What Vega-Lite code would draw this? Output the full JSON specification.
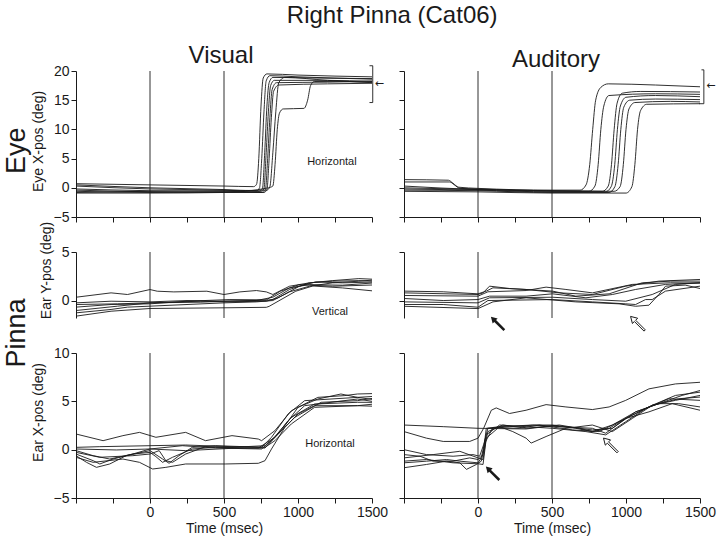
{
"$schema":"https://vega.github.io/schema/vega-lite/v6.json",
"autosize":{"type":"none"},
"padding":{"left":76,"top":71,"right":644,"bottom":469},
"title":{"text":"Right Pinna (Cat06)","fontSize":24,"fontWeight":"normal","font":"Liberation Sans","color":"#1a1a1a","anchor":"middle","dx":33,"dy":-12},
"config":{"view":{"stroke":null},"font":"Liberation Sans",
"axis":{"grid":false,"domainColor":"#1a1a1a","tickColor":"#1a1a1a","labelColor":"#1a1a1a","titleColor":"#1a1a1a","labelFontSize":14,"titleFontSize":14,"titleFontWeight":"normal","tickSize":5,"labelPadding":2,"labelFlush":false,"labelOverlap":false,"labelFont":"Liberation Sans","titleFont":"Liberation Sans"},
"text":{"color":"#1a1a1a","font":"Liberation Sans"}},
"datasets":{
"eyeV":[
{"s":1,"t":-500,"v":0.7},{"s":1,"t":0,"v":0.5},{"s":1,"t":500,"v":0.3},{"s":1,"t":700,"v":0.2},{"s":1,"t":720,"v":0.6},{"s":1,"t":735,"v":5},{"s":1,"t":750,"v":14},{"s":1,"t":765,"v":18.8},{"s":1,"t":790,"v":19.5},{"s":1,"t":1000,"v":19.3},{"s":1,"t":1500,"v":19.0},
{"s":2,"t":-500,"v":0.5},{"s":2,"t":0,"v":0.0},{"s":2,"t":500,"v":-0.3},{"s":2,"t":720,"v":-0.5},{"s":2,"t":740,"v":0},{"s":2,"t":755,"v":5},{"s":2,"t":770,"v":13},{"s":2,"t":785,"v":18.3},{"s":2,"t":810,"v":19.2},{"s":2,"t":1000,"v":19.0},{"s":2,"t":1500,"v":18.6},
{"s":3,"t":-500,"v":0.3},{"s":3,"t":0,"v":-0.2},{"s":3,"t":500,"v":-0.4},{"s":3,"t":740,"v":-0.6},{"s":3,"t":760,"v":-0.1},{"s":3,"t":775,"v":6},{"s":3,"t":790,"v":14},{"s":3,"t":805,"v":18},{"s":3,"t":830,"v":18.9},{"s":3,"t":1100,"v":18.8},{"s":3,"t":1500,"v":18.7},
{"s":4,"t":-500,"v":-0.2},{"s":4,"t":0,"v":-0.5},{"s":4,"t":500,"v":-0.6},{"s":4,"t":750,"v":-0.7},{"s":4,"t":770,"v":-0.2},{"s":4,"t":785,"v":6},{"s":4,"t":800,"v":13},{"s":4,"t":815,"v":17.5},{"s":4,"t":840,"v":18.4},{"s":4,"t":1200,"v":18.4},{"s":4,"t":1500,"v":18.2},
{"s":5,"t":-500,"v":-0.4},{"s":5,"t":0,"v":-0.7},{"s":5,"t":500,"v":-0.8},{"s":5,"t":760,"v":-0.8},{"s":5,"t":780,"v":-0.3},{"s":5,"t":795,"v":5},{"s":5,"t":810,"v":12},{"s":5,"t":825,"v":16.8},{"s":5,"t":855,"v":18.0},{"s":5,"t":1200,"v":18.1},{"s":5,"t":1500,"v":18.3},
{"s":6,"t":-500,"v":-0.6},{"s":6,"t":0,"v":-0.8},{"s":6,"t":500,"v":-0.7},{"s":6,"t":770,"v":-0.8},{"s":6,"t":790,"v":-0.3},{"s":6,"t":805,"v":5},{"s":6,"t":820,"v":12},{"s":6,"t":835,"v":16.5},{"s":6,"t":870,"v":17.6},{"s":6,"t":1200,"v":17.8},{"s":6,"t":1500,"v":17.9},
{"s":7,"t":-500,"v":-0.8},{"s":7,"t":0,"v":-0.6},{"s":7,"t":500,"v":-0.5},{"s":7,"t":790,"v":-0.4},{"s":7,"t":810,"v":0.2},{"s":7,"t":830,"v":6},{"s":7,"t":850,"v":13},{"s":7,"t":870,"v":18},{"s":7,"t":910,"v":18.9},{"s":7,"t":1200,"v":18.4},{"s":7,"t":1500,"v":18.0},
{"s":8,"t":-500,"v":-0.9},{"s":8,"t":0,"v":-0.9},{"s":8,"t":500,"v":-0.8},{"s":8,"t":800,"v":0.0},{"s":8,"t":830,"v":0.3},{"s":8,"t":845,"v":4},{"s":8,"t":860,"v":10},{"s":8,"t":875,"v":12.8},{"s":8,"t":900,"v":13.5},{"s":8,"t":1040,"v":13.6},{"s":8,"t":1065,"v":15},{"s":8,"t":1085,"v":17.5},{"s":8,"t":1110,"v":18.2},{"s":8,"t":1500,"v":18.1}
],
"eyeA":[
{"s":1,"t":-500,"v":1.4},{"s":1,"t":-200,"v":1.3},{"s":1,"t":-170,"v":0.8},{"s":1,"t":-130,"v":0.1},{"s":1,"t":0,"v":-0.1},{"s":1,"t":500,"v":-0.4},{"s":1,"t":690,"v":-0.4},{"s":1,"t":730,"v":0.5},{"s":1,"t":755,"v":4},{"s":1,"t":775,"v":10},{"s":1,"t":795,"v":15},{"s":1,"t":830,"v":17.2},{"s":1,"t":880,"v":17.8},{"s":1,"t":1200,"v":17.6},{"s":1,"t":1500,"v":17.3},
{"s":2,"t":-500,"v":1.0},{"s":2,"t":-190,"v":1.0},{"s":2,"t":-160,"v":0.5},{"s":2,"t":-120,"v":-0.1},{"s":2,"t":0,"v":-0.2},{"s":2,"t":500,"v":-0.6},{"s":2,"t":750,"v":-0.6},{"s":2,"t":790,"v":0.3},{"s":2,"t":812,"v":4},{"s":2,"t":830,"v":10},{"s":2,"t":850,"v":14},{"s":2,"t":885,"v":15.8},{"s":2,"t":1200,"v":16.1},{"s":2,"t":1500,"v":16.0},
{"s":3,"t":-500,"v":0.3},{"s":3,"t":0,"v":-0.3},{"s":3,"t":500,"v":-0.5},{"s":3,"t":840,"v":-0.6},{"s":3,"t":880,"v":0.3},{"s":3,"t":902,"v":4},{"s":3,"t":920,"v":10},{"s":3,"t":940,"v":14.5},{"s":3,"t":975,"v":16.2},{"s":3,"t":1100,"v":16.5},{"s":3,"t":1500,"v":16.4},
{"s":4,"t":-500,"v":-0.2},{"s":4,"t":0,"v":-0.4},{"s":4,"t":500,"v":-0.7},{"s":4,"t":860,"v":-0.7},{"s":4,"t":900,"v":0.2},{"s":4,"t":924,"v":4},{"s":4,"t":942,"v":10},{"s":4,"t":962,"v":14},{"s":4,"t":1000,"v":15.5},{"s":4,"t":1200,"v":15.8},{"s":4,"t":1500,"v":15.6},
{"s":5,"t":-500,"v":-0.4},{"s":5,"t":0,"v":-0.5},{"s":5,"t":500,"v":-0.8},{"s":5,"t":885,"v":-0.8},{"s":5,"t":925,"v":0.2},{"s":5,"t":947,"v":4},{"s":5,"t":965,"v":10},{"s":5,"t":985,"v":13.8},{"s":5,"t":1025,"v":15.0},{"s":5,"t":1200,"v":15.2},{"s":5,"t":1500,"v":15.1},
{"s":6,"t":-500,"v":0.0},{"s":6,"t":0,"v":-0.3},{"s":6,"t":500,"v":-0.5},{"s":6,"t":920,"v":-0.6},{"s":6,"t":960,"v":0.2},{"s":6,"t":982,"v":4},{"s":6,"t":1000,"v":10},{"s":6,"t":1020,"v":13.5},{"s":6,"t":1060,"v":14.6},{"s":6,"t":1300,"v":14.8},{"s":6,"t":1500,"v":14.7},
{"s":7,"t":-500,"v":-0.6},{"s":7,"t":0,"v":-0.7},{"s":7,"t":500,"v":-0.9},{"s":7,"t":1000,"v":-0.9},{"s":7,"t":1040,"v":0.2},{"s":7,"t":1060,"v":4},{"s":7,"t":1078,"v":10},{"s":7,"t":1098,"v":13.2},{"s":7,"t":1140,"v":14.3},{"s":7,"t":1500,"v":14.4}
],
"vertV":[
{"s":1,"t":-500,"v":0.34},{"s":1,"t":-263,"v":0.79},{"s":1,"t":-152,"v":0.62},{"s":1,"t":0,"v":1.13},{"s":1,"t":49,"v":0.96},{"s":1,"t":161,"v":0.89},{"s":1,"t":384,"v":0.96},{"s":1,"t":500,"v":0.62},{"s":1,"t":607,"v":0.89},{"s":1,"t":719,"v":1.03},{"s":1,"t":786,"v":0.89},{"s":1,"t":830,"v":0.62},{"s":1,"t":942,"v":1.47},{"s":1,"t":1076,"v":1.82},{"s":1,"t":1232,"v":2.05},{"s":1,"t":1411,"v":2.26},{"s":1,"t":1500,"v":2.2},
{"s":2,"t":-500,"v":-0.24},{"s":2,"t":-263,"v":-0.07},{"s":2,"t":0,"v":-0.14},{"s":2,"t":250,"v":0},{"s":2,"t":500,"v":-0.07},{"s":2,"t":786,"v":0.03},{"s":2,"t":830,"v":0.1},{"s":2,"t":942,"v":1.13},{"s":2,"t":1076,"v":1.82},{"s":2,"t":1232,"v":1.99},{"s":2,"t":1411,"v":2.05},{"s":2,"t":1500,"v":2.0},
{"s":3,"t":-500,"v":-0.41},{"s":3,"t":-219,"v":-0.34},{"s":3,"t":0,"v":-0.24},{"s":3,"t":339,"v":-0.07},{"s":3,"t":500,"v":-0.14},{"s":3,"t":786,"v":-0.07},{"s":3,"t":864,"v":0.27},{"s":3,"t":1009,"v":1.47},{"s":3,"t":1120,"v":1.92},{"s":3,"t":1300,"v":1.82},{"s":3,"t":1500,"v":1.9},
{"s":4,"t":-500,"v":-0.68},{"s":4,"t":-263,"v":-0.41},{"s":4,"t":0,"v":-0.34},{"s":4,"t":250,"v":-0.07},{"s":4,"t":540,"v":0.1},{"s":4,"t":786,"v":0.07},{"s":4,"t":880,"v":0.96},{"s":4,"t":1009,"v":1.64},{"s":4,"t":1232,"v":1.47},{"s":4,"t":1500,"v":1.6},
{"s":5,"t":-500,"v":-1.03},{"s":5,"t":-219,"v":-0.58},{"s":5,"t":0,"v":-0.24},{"s":5,"t":339,"v":-0.17},{"s":5,"t":500,"v":-0.07},{"s":5,"t":719,"v":0},{"s":5,"t":830,"v":0.34},{"s":5,"t":942,"v":1.3},{"s":5,"t":1076,"v":1.64},{"s":5,"t":1300,"v":1.58},{"s":5,"t":1500,"v":1.8},
{"s":6,"t":-500,"v":-1.61},{"s":6,"t":-263,"v":-1.1},{"s":6,"t":0,"v":-0.82},{"s":6,"t":500,"v":-0.75},{"s":6,"t":786,"v":-0.7},{"s":6,"t":805,"v":-0.6},{"s":6,"t":985,"v":0.96},{"s":6,"t":1100,"v":1.5},{"s":6,"t":1300,"v":1.3},{"s":6,"t":1500,"v":1.0},
{"s":7,"t":-500,"v":-1.27},{"s":7,"t":-263,"v":-0.92},{"s":7,"t":-152,"v":-0.68},{"s":7,"t":0,"v":-0.58},{"s":7,"t":250,"v":-0.41},{"s":7,"t":500,"v":-0.24},{"s":7,"t":719,"v":-0.14},{"s":7,"t":830,"v":0},{"s":7,"t":942,"v":0.89},{"s":7,"t":1076,"v":1.47},{"s":7,"t":1232,"v":1.82},{"s":7,"t":1411,"v":1.99},{"s":7,"t":1500,"v":2.1}
],
"vertA":[
{"s":1,"t":-500,"v":0.97},{"s":1,"t":-235,"v":0.9},{"s":1,"t":0,"v":0.69},{"s":1,"t":56,"v":0.97},{"s":1,"t":101,"v":1.31},{"s":1,"t":325,"v":1.14},{"s":1,"t":549,"v":0.79},{"s":1,"t":773,"v":0.62},{"s":1,"t":998,"v":1.48},{"s":1,"t":1222,"v":2.0},{"s":1,"t":1500,"v":2.17},
{"s":2,"t":-500,"v":0.79},{"s":2,"t":0,"v":0.62},{"s":2,"t":34,"v":0.79},{"s":2,"t":78,"v":1.48},{"s":2,"t":213,"v":1.24},{"s":2,"t":504,"v":0.97},{"s":2,"t":661,"v":0.45},{"s":2,"t":886,"v":0.69},{"s":2,"t":1110,"v":1.83},{"s":2,"t":1300,"v":2.0},{"s":2,"t":1500,"v":2.0},
{"s":3,"t":-500,"v":0.52},{"s":3,"t":0,"v":0.45},{"s":3,"t":67,"v":0.9},{"s":3,"t":325,"v":1.03},{"s":3,"t":460,"v":1.38},{"s":3,"t":594,"v":1.14},{"s":3,"t":773,"v":0.79},{"s":3,"t":1043,"v":1.66},{"s":3,"t":1300,"v":1.83},{"s":3,"t":1500,"v":1.8},
{"s":4,"t":-500,"v":0.21},{"s":4,"t":-235,"v":0},{"s":4,"t":0,"v":0.1},{"s":4,"t":78,"v":0.45},{"s":4,"t":325,"v":0.45},{"s":4,"t":504,"v":0.69},{"s":4,"t":729,"v":0.28},{"s":4,"t":908,"v":0.62},{"s":4,"t":1065,"v":1.14},{"s":4,"t":1267,"v":1.66},{"s":4,"t":1500,"v":1.83},
{"s":5,"t":-500,"v":-0.14},{"s":5,"t":0,"v":-0.24},{"s":5,"t":78,"v":0.28},{"s":5,"t":504,"v":0.34},{"s":5,"t":773,"v":0.1},{"s":5,"t":998,"v":-0.07},{"s":5,"t":1177,"v":0.62},{"s":5,"t":1334,"v":1.66},{"s":5,"t":1500,"v":1.83},
{"s":6,"t":-500,"v":-0.41},{"s":6,"t":-235,"v":-0.41},{"s":6,"t":0,"v":-0.69},{"s":6,"t":67,"v":0},{"s":6,"t":504,"v":0.1},{"s":6,"t":773,"v":-0.14},{"s":6,"t":998,"v":-0.34},{"s":6,"t":1065,"v":-0.41},{"s":6,"t":1132,"v":0.1},{"s":6,"t":1177,"v":0.1},{"s":6,"t":1267,"v":0.97},{"s":6,"t":1500,"v":1.48},
{"s":7,"t":-500,"v":-0.59},{"s":7,"t":0,"v":-0.83},{"s":7,"t":101,"v":-0.14},{"s":7,"t":325,"v":0.28},{"s":7,"t":661,"v":-0.14},{"s":7,"t":953,"v":-0.34},{"s":7,"t":1065,"v":-0.59},{"s":7,"t":1155,"v":-0.48},{"s":7,"t":1222,"v":0.62},{"s":7,"t":1267,"v":1.48},{"s":7,"t":1400,"v":1.59},{"s":7,"t":1500,"v":1.24}
],
"horV":[
{"s":1,"t":-500,"v":1.62},{"s":1,"t":-317,"v":0.93},{"s":1,"t":-183,"v":1.45},{"s":1,"t":-71,"v":1.79},{"s":1,"t":40,"v":1.28},{"s":1,"t":241,"v":1.79},{"s":1,"t":375,"v":0.93},{"s":1,"t":554,"v":1.45},{"s":1,"t":732,"v":1.1},{"s":1,"t":754,"v":0.93},{"s":1,"t":844,"v":1.97},{"s":1,"t":955,"v":4.03},{"s":1,"t":1134,"v":5.41},{"s":1,"t":1312,"v":5.59},{"s":1,"t":1402,"v":5.76},{"s":1,"t":1500,"v":5.8},
{"s":2,"t":-500,"v":0.24},{"s":2,"t":-339,"v":0.31},{"s":2,"t":0,"v":0.41},{"s":2,"t":241,"v":0.48},{"s":2,"t":554,"v":0.31},{"s":2,"t":754,"v":0.24},{"s":2,"t":821,"v":1.28},{"s":2,"t":933,"v":3.69},{"s":2,"t":1045,"v":5.07},{"s":2,"t":1223,"v":5.24},{"s":2,"t":1402,"v":5.41},{"s":2,"t":1500,"v":5.5},
{"s":3,"t":-500,"v":0.07},{"s":3,"t":-228,"v":-0.03},{"s":3,"t":0,"v":0.07},{"s":3,"t":241,"v":-0.1},{"s":3,"t":554,"v":0.14},{"s":3,"t":777,"v":0.17},{"s":3,"t":888,"v":1.97},{"s":3,"t":1000,"v":4.38},{"s":3,"t":1134,"v":5.24},{"s":3,"t":1290,"v":5.76},{"s":3,"t":1402,"v":5.41},{"s":3,"t":1500,"v":5.2},
{"s":4,"t":-500,"v":-0.1},{"s":4,"t":-384,"v":-0.62},{"s":4,"t":-272,"v":-0.97},{"s":4,"t":-116,"v":-0.45},{"s":4,"t":0,"v":0.07},{"s":4,"t":219,"v":0.41},{"s":4,"t":442,"v":0.17},{"s":4,"t":754,"v":0.07},{"s":4,"t":821,"v":0.93},{"s":4,"t":955,"v":3.34},{"s":4,"t":1112,"v":4.72},{"s":4,"t":1402,"v":4.9},{"s":4,"t":1500,"v":4.9},
{"s":5,"t":-500,"v":-0.45},{"s":5,"t":-384,"v":-1.14},{"s":5,"t":-339,"v":-1.48},{"s":5,"t":-250,"v":-0.97},{"s":5,"t":-116,"v":-0.45},{"s":5,"t":0,"v":-0.28},{"s":5,"t":40,"v":-0.72},{"s":5,"t":85,"v":-1.31},{"s":5,"t":152,"v":-0.79},{"s":5,"t":286,"v":0.07},{"s":5,"t":442,"v":0.24},{"s":5,"t":732,"v":0.17},{"s":5,"t":844,"v":1.28},{"s":5,"t":933,"v":3.0},{"s":5,"t":1045,"v":4.55},{"s":5,"t":1223,"v":4.9},{"s":5,"t":1402,"v":5.24},{"s":5,"t":1500,"v":5.0},
{"s":6,"t":-500,"v":-0.62},{"s":6,"t":-429,"v":-1.31},{"s":6,"t":-362,"v":-1.83},{"s":6,"t":-272,"v":-1.48},{"s":6,"t":-161,"v":-0.62},{"s":6,"t":0,"v":-0.1},{"s":6,"t":85,"v":-0.97},{"s":6,"t":129,"v":-1.41},{"s":6,"t":196,"v":-0.62},{"s":6,"t":286,"v":0.24},{"s":6,"t":442,"v":0.41},{"s":6,"t":777,"v":0.24},{"s":6,"t":844,"v":0.93},{"s":6,"t":955,"v":2.66},{"s":6,"t":1112,"v":4.38},{"s":6,"t":1402,"v":4.55},{"s":6,"t":1500,"v":4.5},
{"s":7,"t":-500,"v":-0.79},{"s":7,"t":-384,"v":-1.31},{"s":7,"t":-183,"v":-0.97},{"s":7,"t":-71,"v":-1.31},{"s":7,"t":18,"v":-2.0},{"s":7,"t":107,"v":-1.83},{"s":7,"t":241,"v":-1.48},{"s":7,"t":509,"v":-1.48},{"s":7,"t":732,"v":-1.41},{"s":7,"t":777,"v":-1.14},{"s":7,"t":821,"v":0.07},{"s":7,"t":911,"v":2.31},{"s":7,"t":1000,"v":3.69},{"s":7,"t":1112,"v":4.55},{"s":7,"t":1402,"v":4.55},{"s":7,"t":1500,"v":4.7},
{"s":8,"t":-500,"v":-0.28},{"s":8,"t":-339,"v":-0.79},{"s":8,"t":-116,"v":-0.62},{"s":8,"t":0,"v":-0.45},{"s":8,"t":62,"v":-0.1},{"s":8,"t":107,"v":-1.14},{"s":8,"t":152,"v":-1.31},{"s":8,"t":241,"v":-0.45},{"s":8,"t":375,"v":0.31},{"s":8,"t":554,"v":0.24},{"s":8,"t":777,"v":0.41},{"s":8,"t":866,"v":1.62},{"s":8,"t":978,"v":3.34},{"s":8,"t":1156,"v":4.9},{"s":8,"t":1402,"v":5.07},{"s":8,"t":1500,"v":5.3}
],
"horA":[
{"s":1,"t":-500,"v":2.55},{"s":1,"t":-235,"v":2.38},{"s":1,"t":0,"v":2.21},{"s":1,"t":325,"v":2.14},{"s":1,"t":504,"v":2.48},{"s":1,"t":661,"v":2.21},{"s":1,"t":773,"v":1.87},{"s":1,"t":886,"v":2.21},{"s":1,"t":998,"v":3.23},{"s":1,"t":1177,"v":4.59},{"s":1,"t":1334,"v":5.1},{"s":1,"t":1500,"v":5.61},
{"s":2,"t":-500,"v":1.87},{"s":2,"t":-348,"v":1.19},{"s":2,"t":-235,"v":0.85},{"s":2,"t":-56,"v":0.85},{"s":2,"t":0,"v":1.19},{"s":2,"t":38,"v":2.21},{"s":2,"t":90,"v":4.08},{"s":2,"t":123,"v":4.32},{"s":2,"t":213,"v":3.74},{"s":2,"t":325,"v":4.08},{"s":2,"t":460,"v":4.66},{"s":2,"t":594,"v":4.42},{"s":2,"t":773,"v":4.15},{"s":2,"t":886,"v":4.42},{"s":2,"t":998,"v":5.1},{"s":2,"t":1155,"v":6.29},{"s":2,"t":1334,"v":6.8},{"s":2,"t":1500,"v":6.97},
{"s":3,"t":-500,"v":0},{"s":3,"t":-348,"v":-0.51},{"s":3,"t":-168,"v":-0.68},{"s":3,"t":-34,"v":-0.51},{"s":3,"t":11,"v":-0.68},{"s":3,"t":38,"v":0.51},{"s":3,"t":67,"v":2.21},{"s":3,"t":213,"v":2.38},{"s":3,"t":392,"v":2.55},{"s":3,"t":504,"v":2.55},{"s":3,"t":684,"v":2.21},{"s":3,"t":773,"v":2.04},{"s":3,"t":908,"v":2.21},{"s":3,"t":1065,"v":3.91},{"s":3,"t":1222,"v":4.76},{"s":3,"t":1379,"v":5.61},{"s":3,"t":1500,"v":6.12},
{"s":4,"t":-500,"v":-0.51},{"s":4,"t":-392,"v":-0.68},{"s":4,"t":-303,"v":-1.19},{"s":4,"t":-168,"v":-1.19},{"s":4,"t":-56,"v":-0.85},{"s":4,"t":0,"v":-1.02},{"s":4,"t":34,"v":-0.51},{"s":4,"t":56,"v":2.21},{"s":4,"t":146,"v":2.38},{"s":4,"t":235,"v":1.87},{"s":4,"t":325,"v":1.19},{"s":4,"t":359,"v":0.68},{"s":4,"t":460,"v":1.36},{"s":4,"t":594,"v":2.21},{"s":4,"t":773,"v":2.55},{"s":4,"t":908,"v":1.87},{"s":4,"t":1043,"v":3.23},{"s":4,"t":1177,"v":4.59},{"s":4,"t":1356,"v":5.27},{"s":4,"t":1500,"v":5.44},
{"s":5,"t":-500,"v":-1.36},{"s":5,"t":-348,"v":-1.19},{"s":5,"t":-213,"v":-1.02},{"s":5,"t":-123,"v":-1.19},{"s":5,"t":0,"v":-1.36},{"s":5,"t":22,"v":-0.85},{"s":5,"t":56,"v":1.53},{"s":5,"t":146,"v":2.55},{"s":5,"t":325,"v":2.38},{"s":5,"t":504,"v":2.21},{"s":5,"t":729,"v":1.87},{"s":5,"t":863,"v":1.53},{"s":5,"t":998,"v":2.89},{"s":5,"t":1132,"v":4.25},{"s":5,"t":1289,"v":5.27},{"s":5,"t":1500,"v":5.1},
{"s":6,"t":-500,"v":-1.87},{"s":6,"t":-348,"v":-1.53},{"s":6,"t":-213,"v":-1.19},{"s":6,"t":-123,"v":-1.36},{"s":6,"t":-78,"v":-2.04},{"s":6,"t":-11,"v":-1.53},{"s":6,"t":22,"v":-1.19},{"s":6,"t":67,"v":1.87},{"s":6,"t":168,"v":2.55},{"s":6,"t":325,"v":2.21},{"s":6,"t":549,"v":2.55},{"s":6,"t":684,"v":2.21},{"s":6,"t":773,"v":1.87},{"s":6,"t":908,"v":2.55},{"s":6,"t":1065,"v":3.91},{"s":6,"t":1222,"v":4.76},{"s":6,"t":1356,"v":4.76},{"s":6,"t":1500,"v":4.42},
{"s":7,"t":-500,"v":-1.19},{"s":7,"t":-348,"v":-1.02},{"s":7,"t":-168,"v":-1.36},{"s":7,"t":0,"v":-1.46},{"s":7,"t":34,"v":-1.53},{"s":7,"t":56,"v":1.19},{"s":7,"t":146,"v":2.38},{"s":7,"t":370,"v":2.55},{"s":7,"t":549,"v":2.38},{"s":7,"t":773,"v":2.21},{"s":7,"t":863,"v":1.7},{"s":7,"t":998,"v":3.23},{"s":7,"t":1155,"v":3.91},{"s":7,"t":1312,"v":4.76},{"s":7,"t":1500,"v":4.08},
{"s":8,"t":-500,"v":-0.85},{"s":8,"t":-303,"v":-0.51},{"s":8,"t":-123,"v":-0.17},{"s":8,"t":0,"v":-0.85},{"s":8,"t":34,"v":-1.02},{"s":8,"t":52,"v":0.85},{"s":8,"t":101,"v":2.28},{"s":8,"t":280,"v":2.21},{"s":8,"t":415,"v":2.55},{"s":8,"t":639,"v":2.04},{"s":8,"t":818,"v":1.87},{"s":8,"t":1043,"v":3.57},{"s":8,"t":1177,"v":4.59},{"s":8,"t":1334,"v":5.61},{"s":8,"t":1500,"v":5.95}
]
},
"columns":2,
"spacing":{"row":35,"column":32},
"bounds":"flush",
"concat":[
{"width":296,"height":146,
"encoding":{"x":{"field":"t","type":"quantitative","scale":{"domain":[-500,1500],"nice":false,"zero":false},"axis":{"values":[-500,-250,0,250,500,750,1000,1250,1500],"labels":false,"title":null}},
"y":{"field":"v","type":"quantitative","scale":{"domain":[-5,20],"nice":false,"zero":false},"axis":{"values":[-5,0,5,10,15,20],"title":"Eye X-pos (deg)","titlePadding":8,"titleY":70}}},
"layer":[
{"data":{"name":"eyeV"},"mark":{"type":"line","interpolate":"monotone","color":"#1a1a1a","strokeWidth":0.9},"encoding":{"detail":{"field":"s"}}},
{"data":{"values":[{"t":0,"v":-5,"v2":20},{"t":500,"v":-5,"v2":20},{"t":1505,"v":20.9,"v2":14.6}]},"mark":{"type":"rule","color":"#1a1a1a","strokeWidth":0.9},"encoding":{"y2":{"field":"v2"}}},
{"data":{"values":[{"t":1483,"v":20.9,"t2":1505},{"t":1483,"v":14.6,"t2":1505}]},"mark":{"type":"rule","color":"#1a1a1a","strokeWidth":0.9},"encoding":{"x2":{"field":"t2"}}},
{"data":{"values":[{"t":1549,"v":17.7,"label":"←"}]},"mark":{"type":"text","font":"DejaVu Sans","fontSize":11,"align":"center","baseline":"middle"},"encoding":{"text":{"field":"label"}}},
{"data":{"values":[{"t":1229,"v":3.95,"label":"Horizontal"}]},"mark":{"type":"text","fontSize":11,"align":"center","baseline":"alphabetic"},"encoding":{"text":{"field":"label"}}},
{"data":{"values":[{"t":480,"v":21.4,"label":"Visual"}]},"mark":{"type":"text","fontSize":24,"align":"center","baseline":"alphabetic"},"encoding":{"text":{"field":"label"}}},
{"data":{"values":[{"t":-900,"v":6.35,"label":"Eye"}]},"mark":{"type":"text","fontSize":27,"angle":270,"align":"center","baseline":"middle"},"encoding":{"text":{"field":"label"}}}
]},
{"width":296,"height":146,
"encoding":{"x":{"field":"t","type":"quantitative","scale":{"domain":[-500,1500],"nice":false,"zero":false},"axis":{"values":[-500,-250,0,250,500,750,1000,1250,1500],"labels":false,"title":null}},
"y":{"field":"v","type":"quantitative","scale":{"domain":[-5,20],"nice":false,"zero":false},"axis":{"values":[-5,0,5,10,15,20],"labels":false,"title":null}}},
"layer":[
{"data":{"name":"eyeA"},"mark":{"type":"line","interpolate":"monotone","color":"#1a1a1a","strokeWidth":0.9},"encoding":{"detail":{"field":"s"}}},
{"data":{"values":[{"t":0,"v":-5,"v2":20},{"t":500,"v":-5,"v2":20},{"t":1526,"v":20.2,"v2":14.4}]},"mark":{"type":"rule","color":"#1a1a1a","strokeWidth":0.9},"encoding":{"y2":{"field":"v2"}}},
{"data":{"values":[{"t":1510,"v":20.2,"t2":1526},{"t":1495,"v":14.4,"t2":1526}]},"mark":{"type":"rule","color":"#1a1a1a","strokeWidth":0.9},"encoding":{"x2":{"field":"t2"}}},
{"data":{"values":[{"t":1573,"v":17.4,"label":"←"}]},"mark":{"type":"text","font":"DejaVu Sans","fontSize":11,"align":"center","baseline":"middle"},"encoding":{"text":{"field":"label"}}},
{"data":{"values":[{"t":527,"v":20.7,"label":"Auditory"}]},"mark":{"type":"text","fontSize":24,"align":"center","baseline":"alphabetic"},"encoding":{"text":{"field":"label"}}}
]},
{"width":296,"height":66,
"encoding":{"x":{"field":"t","type":"quantitative","scale":{"domain":[-500,1500],"nice":false,"zero":false},"axis":null},
"y":{"field":"v","type":"quantitative","scale":{"domain":[-1.8,5],"nice":false,"zero":false},"axis":{"values":[0,5],"title":"Ear Y-pos (deg)","titlePadding":8,"titleY":18}}},
"layer":[
{"data":{"name":"vertV"},"mark":{"type":"line","color":"#1a1a1a","strokeWidth":0.9},"encoding":{"detail":{"field":"s"}}},
{"data":{"values":[{"t":0,"v":-1.8,"v2":5},{"t":500,"v":-1.8,"v2":5}]},"mark":{"type":"rule","color":"#1a1a1a","strokeWidth":0.9},"encoding":{"y2":{"field":"v2"}}},
{"data":{"values":[{"t":1216,"v":-1.5,"label":"Vertical"}]},"mark":{"type":"text","fontSize":11,"align":"center","baseline":"alphabetic"},"encoding":{"text":{"field":"label"}}}
]},
{"width":296,"height":66,
"encoding":{"x":{"field":"t","type":"quantitative","scale":{"domain":[-500,1500],"nice":false,"zero":false},"axis":null},
"y":{"field":"v","type":"quantitative","scale":{"domain":[-1.8,5],"nice":false,"zero":false},"axis":{"values":[0,5],"labels":false,"title":null}}},
"layer":[
{"data":{"name":"vertA"},"mark":{"type":"line","color":"#1a1a1a","strokeWidth":0.9},"encoding":{"detail":{"field":"s"}}},
{"data":{"values":[{"t":0,"v":-1.8,"v2":5},{"t":500,"v":-1.8,"v2":5}]},"mark":{"type":"rule","color":"#1a1a1a","strokeWidth":0.9},"encoding":{"y2":{"field":"v2"}}},
{"data":{"values":[{"t":135,"v":-2.4}]},"mark":{"type":"point","shape":"M-1,-1L-0.046,-0.754L-0.273,-0.527L1.027,0.773L0.773,1.027L-0.527,-0.273L-0.754,-0.046Z","filled":true,"color":"#1a1a1a","opacity":1,"size":200}},
{"data":{"values":[{"t":1081,"v":-2.4}]},"mark":{"type":"point","shape":"M-1,-1L-0.046,-0.754L-0.315,-0.485L0.985,0.815L0.815,0.985L-0.485,-0.315L-0.754,-0.046Z","filled":true,"fill":"white","stroke":"#1a1a1a","strokeWidth":1,"opacity":1,"size":220}}
]},
{"width":296,"height":145,
"encoding":{"x":{"field":"t","type":"quantitative","scale":{"domain":[-500,1500],"nice":false,"zero":false},"axis":{"values":[-500,-250,0,250,500,750,1000,1250,1500],"format":"d","labelExpr":"datum.value >= 0 && datum.value % 500 == 0 ? datum.label : ''","title":"Time (msec)","titlePadding":2}},
"y":{"field":"v","type":"quantitative","scale":{"domain":[-5,10],"nice":false,"zero":false},"axis":{"values":[-5,0,5,10],"title":"Ear X-pos (deg)","titlePadding":8,"titleY":59}}},
"layer":[
{"data":{"name":"horV"},"mark":{"type":"line","color":"#1a1a1a","strokeWidth":0.9},"encoding":{"detail":{"field":"s"}}},
{"data":{"values":[{"t":0,"v":-5,"v2":10},{"t":500,"v":-5,"v2":10}]},"mark":{"type":"rule","color":"#1a1a1a","strokeWidth":0.9},"encoding":{"y2":{"field":"v2"}}},
{"data":{"values":[{"t":1216,"v":0.24,"label":"Horizontal"}]},"mark":{"type":"text","fontSize":11,"align":"center","baseline":"alphabetic"},"encoding":{"text":{"field":"label"}}},
{"data":{"values":[{"t":-900,"v":12.08,"label":"Pinna"}]},"mark":{"type":"text","fontSize":27,"angle":270,"align":"center","baseline":"middle"},"encoding":{"text":{"field":"label"}}}
]},
{"width":296,"height":145,
"encoding":{"x":{"field":"t","type":"quantitative","scale":{"domain":[-500,1500],"nice":false,"zero":false},"axis":{"values":[-500,-250,0,250,500,750,1000,1250,1500],"format":"d","labelExpr":"datum.value >= 0 && datum.value % 500 == 0 ? datum.label : ''","title":"Time (msec)","titlePadding":2}},
"y":{"field":"v","type":"quantitative","scale":{"domain":[-5,10],"nice":false,"zero":false},"axis":{"values":[-5,0,5,10],"labels":false,"title":null}}},
"layer":[
{"data":{"name":"horA"},"mark":{"type":"line","color":"#1a1a1a","strokeWidth":0.9},"encoding":{"detail":{"field":"s"}}},
{"data":{"values":[{"t":0,"v":-5,"v2":10},{"t":500,"v":-5,"v2":10}]},"mark":{"type":"rule","color":"#1a1a1a","strokeWidth":0.9},"encoding":{"y2":{"field":"v2"}}},
{"data":{"values":[{"t":101,"v":-2.48}]},"mark":{"type":"point","shape":"M-1,-1L-0.046,-0.754L-0.273,-0.527L1.027,0.773L0.773,1.027L-0.527,-0.273L-0.754,-0.046Z","filled":true,"color":"#1a1a1a","opacity":1,"size":200}},
{"data":{"values":[{"t":898,"v":0.43}]},"mark":{"type":"point","shape":"M-1,-1L-0.046,-0.754L-0.315,-0.485L0.985,0.815L0.815,0.985L-0.485,-0.315L-0.754,-0.046Z","filled":true,"fill":"white","stroke":"#1a1a1a","strokeWidth":1,"opacity":1,"size":220}}
]}
]
}
